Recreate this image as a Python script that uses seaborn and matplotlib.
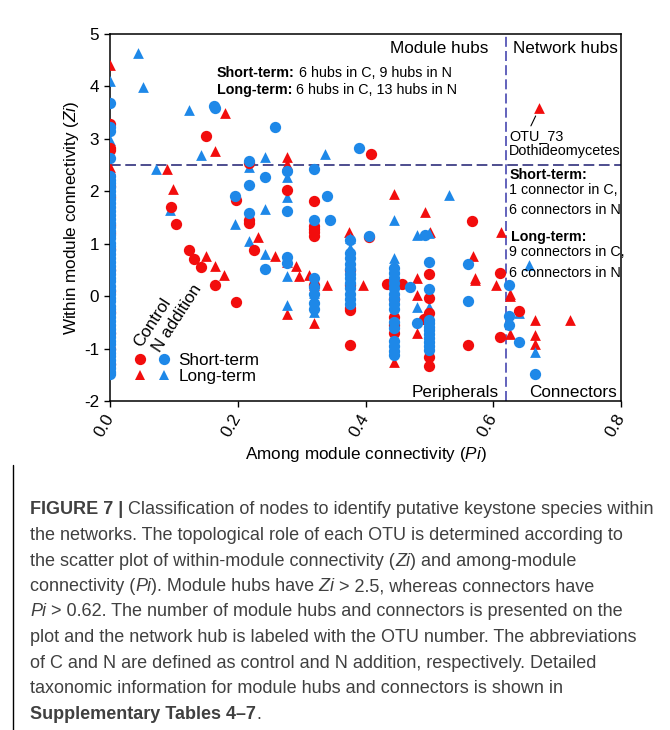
import matplotlib
matplotlib.use("Agg")
import numpy as np
import pandas as pd
import seaborn as sns
import matplotlib.pyplot as plt
from matplotlib.lines import Line2D
from matplotlib.legend_handler import HandlerTuple

# ---------------- data ----------------
# Control, short-term (red circles)
ctrl_short_col0_zi = [3.29, 2.83, 2.78, 2.10, 1.90, 1.35, 1.20, 0.90, 0.50, 0.10, -0.30, -0.70, -1.00, -1.30]
ctrl_short_pi = [0.095, 0.103, 0.123, 0.131, 0.142, 0.150, 0.164, 0.197, 0.197, 0.218, 0.218, 0.218, 0.225,
                 0.277, 0.320, 0.320, 0.320, 0.320, 0.320, 0.320, 0.375, 0.375, 0.375, 0.375, 0.375, 0.406,
                 0.408, 0.434, 0.444, 0.444, 0.444, 0.444, 0.444, 0.457, 0.492, 0.500, 0.500, 0.500, 0.500,
                 0.500, 0.566, 0.560, 0.611, 0.611, 0.640]
ctrl_short_zi = [1.70, 1.37, 0.88, 0.71, 0.55, 3.06, 0.21, 1.83, -0.11, 2.53, 1.45, 1.40, 0.88,
                 2.03, 1.81, 1.33, 1.28, 1.22, 1.15, 0.21, 0.50, 0.22, -0.23, -0.27, -0.93, 1.12,
                 2.72, 0.23, 0.22, -0.05, -0.39, -0.55, -0.70, 0.23, -0.43, 0.43, -0.03, -0.32, -1.16,
                 -1.34, 1.44, -0.93, 0.45, -0.78, -0.29]

# N addition, short-term (blue circles)
n_short_col0_zi = [3.69, 3.23, 3.15, 2.63, 2.30, 2.22, 2.15, 2.08, 2.00, 1.92, 1.85, 1.78, 1.70, 1.62, 1.55,
                   1.47, 1.40, 1.32, 1.25, 1.17, 1.10, 1.02, 0.95, 0.88, 0.80, 0.72, 0.65, 0.58, 0.50, 0.42,
                   0.35, 0.28, 0.20, 0.12, 0.05, -0.03, -0.10, -0.18, -0.25, -0.32, -0.40, -0.48, -0.55,
                   -0.62, -0.70, -0.78, -0.85, -0.92, -1.00, -1.08, -1.15, -1.22, -1.30, -1.38, -1.44, -1.48]
n_short_pi = [0.163, 0.165, 0.196, 0.218, 0.218, 0.218, 0.243, 0.243, 0.259, 0.277, 0.277, 0.277, 0.277,
              0.320, 0.320, 0.320, 0.320, 0.320, 0.320, 0.320, 0.339, 0.344, 0.375,
              0.375, 0.375, 0.375, 0.375, 0.375, 0.375, 0.375, 0.375, 0.375, 0.375, 0.375,
              0.390, 0.406,
              0.444, 0.444, 0.444, 0.444, 0.444, 0.444, 0.444, 0.444, 0.444, 0.444, 0.444, 0.444, 0.444,
              0.444, 0.444,
              0.469, 0.480, 0.493,
              0.500, 0.500, 0.500, 0.500, 0.500, 0.500, 0.500, 0.500, 0.500, 0.500, 0.500,
              0.560, 0.560, 0.625, 0.625, 0.625, 0.640, 0.665]
n_short_zi = [3.62, 3.58, 1.91, 2.57, 2.12, 1.58, 2.28, 0.52, 3.23, 2.39, 1.62, 0.75, 0.63,
              2.42, 1.46, 0.34, 0.18, 0.05, -0.14, -0.25, 1.91, 1.46, 1.07,
              0.82, 0.72, 0.62, 0.52, 0.42, 0.35, 0.25, 0.15, 0.05, -0.05, -0.15,
              2.83, 1.15,
              0.53, 0.45, 0.35, 0.25, 0.15, 0.05, -0.05, -0.15, -0.25, -0.50, -0.60, -0.85, -0.95,
              -1.05, -1.13,
              0.18, -0.52, 1.16,
              0.65, 0.13, -0.46, -0.52, -0.58, -0.65, -0.72, -0.80, -0.88, -0.95, -1.03,
              0.62, -0.10, 0.22, -0.38, -0.55, -0.87, -1.49]

# Control, long-term (red triangles)
ctrl_long_col0_zi = [4.40, 2.47, 2.43, 1.50, 0.20, -0.50, -1.20]
ctrl_long_pi = [0.090, 0.099, 0.151, 0.164, 0.164, 0.179, 0.180, 0.231, 0.259, 0.277, 0.277, 0.277, 0.277,
                0.291, 0.296, 0.312, 0.320, 0.320, 0.339, 0.374, 0.396, 0.444, 0.444, 0.480, 0.480, 0.480,
                0.493, 0.501, 0.568, 0.571, 0.571, 0.605, 0.612, 0.626, 0.626, 0.626, 0.665, 0.665, 0.665,
                0.672, 0.720]
ctrl_long_zi = [2.42, 2.05, 0.76, 0.58, 2.77, 0.40, 3.50, 1.13, 0.77, 2.66, 2.52, 0.66, -0.34,
                0.58, 0.39, 0.41, 0.21, -0.52, 0.21, 1.23, 0.21, 1.94, -1.25, 0.35, 0.02, -0.71,
                1.61, 1.23, 0.76, 0.34, 0.30, 0.21, 1.22, 0.05, 0.00, -0.73, -0.46, -0.74, -0.91,
                3.58, -0.46]

# N addition, long-term (blue triangles)
n_long_col0_zi = [4.10, 2.98, 1.00, -0.80]
n_long_pi = [0.044, 0.051, 0.072, 0.094, 0.124, 0.142, 0.196, 0.218, 0.218, 0.243, 0.243, 0.243, 0.277,
             0.277, 0.277, 0.277, 0.320, 0.320, 0.337, 0.375, 0.375, 0.444, 0.444, 0.480, 0.480, 0.500,
             0.500, 0.531, 0.640, 0.656, 0.665]
n_long_zi = [4.64, 3.99, 2.42, 1.64, 3.55, 2.70, 1.37, 2.46, 1.05, 2.66, 1.67, 0.80, 2.28,
             1.90, 0.38, -0.16, 0.06, -0.30, 2.71, 1.10, 0.92, 1.46, 0.72, 1.16, -0.21, 1.20,
             -0.20, 1.92, -0.32, 0.60, -1.06]

x_ticks = [0.0, 0.2, 0.4, 0.6, 0.8]
x_ticklabels = ["0.0", "0.2", "0.4", "0.6", "0.8"]
y_ticks = [-2, -1, 0, 1, 2, 3, 4, 5]
zi_threshold = 2.5
pi_threshold = 0.62

RED = "#F20D0D"
BLUE = "#1E88E8"


def series(col0_zi, pi, zi, treat, term):
    d = pd.DataFrame({"Pi": np.concatenate([np.zeros(len(col0_zi)), pi]),
                      "Zi": np.concatenate([col0_zi, zi])})
    d["treatment"] = treat
    d["term"] = term
    return d


df = pd.concat([
    series(ctrl_long_col0_zi, ctrl_long_pi, ctrl_long_zi, "Control", "Long-term"),
    series(n_long_col0_zi, n_long_pi, n_long_zi, "N addition", "Long-term"),
    series(ctrl_short_col0_zi, ctrl_short_pi, ctrl_short_zi, "Control", "Short-term"),
    series(n_short_col0_zi, n_short_pi, n_short_zi, "N addition", "Short-term"),
], ignore_index=True)

# ---------------- style ----------------
sns.set_style("ticks")
plt.rcParams["font.family"] = ["Liberation Sans", "DejaVu Sans"]
plt.rcParams["mathtext.fontset"] = "custom"
plt.rcParams["mathtext.rm"] = "Liberation Sans"
plt.rcParams["mathtext.it"] = "Liberation Sans:italic"
plt.rcParams["axes.edgecolor"] = "black"
plt.rcParams["xtick.color"] = "black"
plt.rcParams["ytick.color"] = "black"
plt.rcParams["text.color"] = "black"
plt.rcParams["axes.labelcolor"] = "black"

FS = 12.3
fig = plt.figure(figsize=(6.7, 7.3), dpi=100)
ax = fig.add_axes([110 / 670, 1 - 401 / 730, 511 / 670, 367 / 730])

palette = {"Control": RED, "N addition": BLUE}
for (treat, term), sub in df.groupby(["treatment", "term"], sort=False):
    sns.scatterplot(data=sub, x="Pi", y="Zi", ax=ax, color=palette[treat],
                    marker="o" if term == "Short-term" else "^",
                    s=66 if term == "Short-term" else 60, linewidth=0, legend=False, zorder=3)

ax.set_xlim(0, 0.8)
ax.set_ylim(-2, 5)
ax.axhline(zi_threshold, color="#1c1c70", lw=1.1, ls=(0, (7, 3)), zorder=2)
ax.axvline(pi_threshold, color="#4848b0", lw=1.2, ls=(0, (6, 2.5)), zorder=2)

for sp in ax.spines.values():
    sp.set_visible(True)
    sp.set_linewidth(1.1)
    sp.set_color("black")

ax.set_xticks(x_ticks)
ax.set_xticklabels(x_ticklabels, rotation=60, ha="right", va="center", rotation_mode="anchor", fontsize=FS)
ax.set_yticks(y_ticks)
ax.set_yticklabels([str(v) for v in y_ticks], fontsize=FS)
ax.tick_params(axis="both", direction="out", length=4, width=1.0)
ax.tick_params(axis="x", pad=6)
ax.tick_params(axis="y", pad=4)
ax.set_xlabel(r"Among module connectivity ($\it{Pi}$)", fontsize=FS, labelpad=4)
ax.set_ylabel(r"Within module connectivity ($\it{Zi}$)", fontsize=FS, labelpad=2)

# region labels
ax.text(0.593, 4.73, "Module hubs", ha="right", va="center", fontsize=FS)
ax.text(0.631, 4.73, "Network hubs", ha="left", va="center", fontsize=FS)
ax.text(0.609, -1.83, "Peripherals", ha="right", va="center", fontsize=FS)
ax.text(0.794, -1.83, "Connectors", ha="right", va="center", fontsize=FS)


def rich(x, y, segs, fs, coords):
    prev = None
    for txt, w in segs:
        if prev is None:
            prev = ax.text(x, y, txt, ha="left", va="baseline", fontsize=fs, weight=w, transform=coords)
        else:
            prev = ax.annotate(txt, xy=(1, 0), xycoords=prev, ha="left", va="bottom",
                               fontsize=fs, weight=w, annotation_clip=False)
    return prev


SFS = 10.3
rich(0.1675, 4.18, [("Short-term:", "bold"), (" 6 hubs in C, 9 hubs in N", "normal")], SFS, ax.transData)
rich(0.1675, 3.85, [("Long-term:", "bold"), (" 6 hubs in C, 13 hubs in N", "normal")], SFS, ax.transData)

ax.text(0.626, 2.226, "Short-term:", weight="bold", fontsize=SFS, va="baseline")
ax.text(0.625, 1.945, "1 connector in C,", fontsize=SFS, va="baseline")
ax.text(0.625, 1.564, "6 connectors in N", fontsize=SFS, va="baseline")
ax.text(0.628, 1.055, "Long-term:", weight="bold", fontsize=SFS, va="baseline")
ax.text(0.625, 0.763, "9 connectors in C,", fontsize=SFS, va="baseline")
ax.text(0.625, 0.357, "6 connectors in N", fontsize=SFS, va="baseline")

ax.annotate("OTU_73", xy=(0.672, 3.58), xytext=(0.625, 2.975), textcoords="data",
            ha="left", va="baseline", fontsize=10.4,
            arrowprops=dict(arrowstyle="-", color="black", lw=0.8, shrinkA=0, shrinkB=6,
                            relpos=(0.37, 1.0)))
ax.text(0.625, 2.69, "Dothideomycetes", ha="left", va="baseline", fontsize=10.4)

# legend
ax.text(0.0665, -0.50, "Control", rotation=57, ha="center", va="center", fontsize=FS)
ax.text(0.106, -0.42, "N addition", rotation=57, ha="center", va="center", fontsize=FS)
h_rc = Line2D([], [], marker="o", ls="none", color=RED, markersize=8.1, mew=0)
h_bc = Line2D([], [], marker="o", ls="none", color=BLUE, markersize=8.1, mew=0)
h_rt = Line2D([], [], marker="^", ls="none", color=RED, markersize=7.7, mew=0)
h_bt = Line2D([], [], marker="^", ls="none", color=BLUE, markersize=7.7, mew=0)
ax.legend([(h_rc, h_bc), (h_rt, h_bt)], ["Short-term", "Long-term"],
          handler_map={tuple: HandlerTuple(ndivide=None, pad=0)},
          loc="upper left", bbox_to_anchor=(0.035, 0.13), frameon=False,
          handlelength=2.85, handletextpad=0.12, borderpad=0, borderaxespad=0,
          labelspacing=0.05, fontsize=FS)

# caption
CAP_FONT = ["Liberation Sans", "DejaVu Sans"]
CAP_FS = 11.5
CAP_COLOR = "#404040"
caption = [
    [("FIGURE 7 |", "bold", "normal"), (" Classification of nodes to identify putative keystone species within", "normal", "normal")],
    [("the networks. The topological role of each OTU is determined according to", "normal", "normal")],
    [("the scatter plot of within-module connectivity (", "normal", "normal"), ("Zi", "normal", "italic"),
     (") and among-module", "normal", "normal")],
    [("connectivity (", "normal", "normal"), ("Pi", "normal", "italic"), ("). Module hubs have", "normal", "normal"),
     (" Zi", "normal", "italic"), (" > 2.5, whereas connectors have", "normal", "normal")],
    [("Pi", "normal", "italic"), (" > 0.62. The number of module hubs and connectors is presented on the", "normal", "normal")],
    [("plot and the network hub is labeled with the OTU number. The abbreviations", "normal", "normal")],
    [("of C and N are defined as control and N addition, respectively. Detailed", "normal", "normal")],
    [("taxonomic information for module hubs and connectors is shown in", "normal", "normal")],
    [("Supplementary Tables 4\u20137", "bold", "normal"), (".", "normal", "normal")],
]
baselines = [514, 540, 565.5, 591, 616.5, 642, 668, 693, 719]
cap_texts = []
line_ends = []
for line, by in zip(caption, baselines):
    prev = None
    for txt, w, st in line:
        kw = dict(fontsize=CAP_FS, family=CAP_FONT, weight=w, style=st, color=CAP_COLOR)
        if prev is None:
            prev = fig.text(30 / 670, 1 - by / 730, txt, ha="left", va="baseline", **kw)
        else:
            prev = ax.annotate(txt, xy=(1, 0), xycoords=prev, ha="left", va="bottom",
                               annotation_clip=False, **kw)
        cap_texts.append(prev)
    line_ends.append(prev)

# scale caption font so that the first line spans the same width as in the figure (x 30 -> 655 px)
fig.canvas.draw()
renderer = fig.canvas.get_renderer()
w1 = line_ends[0].get_window_extent(renderer).x1 - 30
scale = 625.0 / w1
for t in cap_texts:
    t.set_fontsize(CAP_FS * scale)

fig.add_artist(Line2D([13 / 670, 13 / 670], [0, 1 - 465 / 730], color="black", lw=1.0,
                      transform=fig.transFigure))

fig.savefig("out.png", dpi=100)
